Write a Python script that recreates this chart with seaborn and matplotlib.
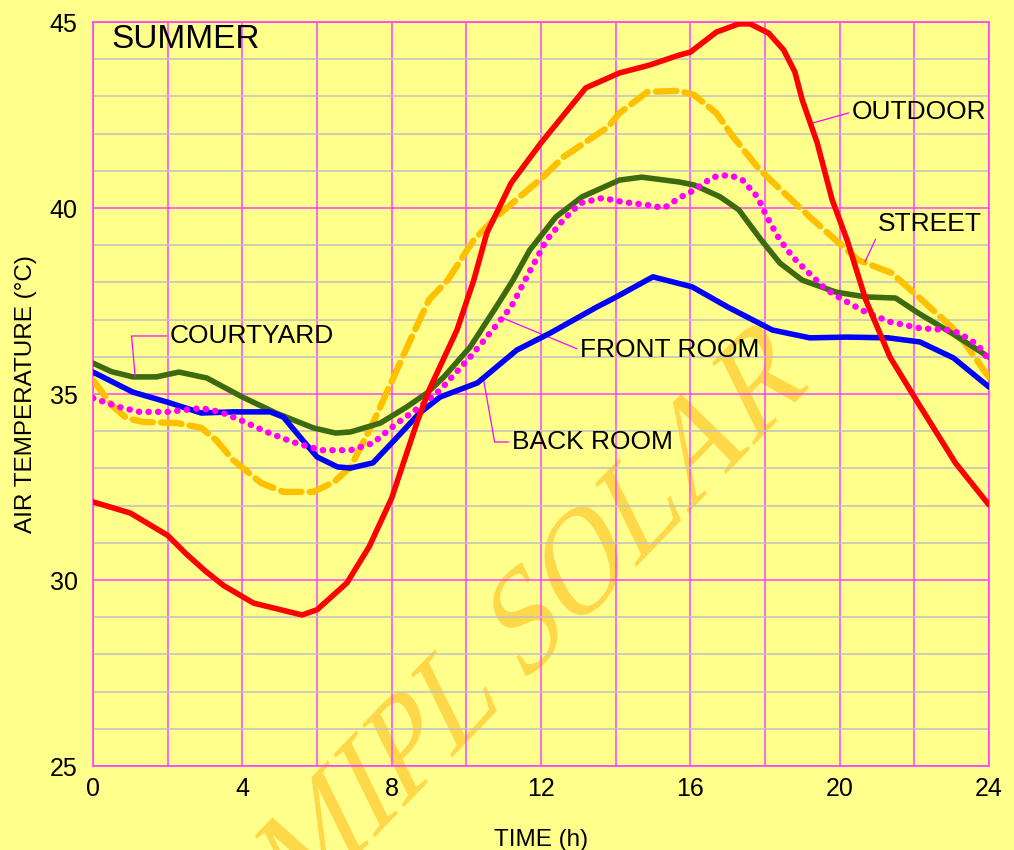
import matplotlib
matplotlib.use("Agg")
import matplotlib.pyplot as plt
from matplotlib.ticker import MultipleLocator
from matplotlib.textpath import TextPath
from matplotlib.patches import PathPatch
from matplotlib.font_manager import FontProperties
from matplotlib.transforms import Affine2D
import seaborn as sns

# Hourly air temperatures
outdoor_h = [0, 1, 2, 2.5, 3, 3.5, 4.3, 5.6, 6, 6.8, 7.4, 8, 8.7, 9, 9.75, 10.2, 10.55, 11.2, 12,
             13.2, 14.1, 14.9, 15.7, 16.0, 16.7, 17.3, 17.6, 18.1, 18.5, 18.8, 19.0, 19.4, 19.8,
             20.2, 20.7, 21.35, 22.1, 23.1, 24]
outdoor_t = [32.1, 31.8, 31.2, 30.7, 30.25, 29.85, 29.38, 29.06, 29.2, 29.92, 30.9, 32.2, 34.3,
             35.1, 36.72, 38.06, 39.33, 40.67, 41.75, 43.23, 43.63, 43.84, 44.11, 44.19, 44.73,
             44.95, 44.95, 44.7, 44.25, 43.66, 42.9, 41.75, 40.22, 39.14, 37.53, 35.99, 34.76,
             33.15, 32.02]

street_h = [0, 0.5, 0.9, 1.35, 2.25, 2.9, 3.3, 3.75, 4.5, 5.1, 5.9, 6.45, 6.9, 7.5, 7.9, 8.5, 9.0,
            9.5, 10.2, 10.8, 12.05, 12.6, 13.8, 14.1, 14.85, 15.7, 16.1, 16.7, 17.15, 17.8, 18.15,
            19.2, 20.5, 21.4, 22.2, 23.0, 23.4, 24]
street_t = [35.38, 34.7, 34.35, 34.25, 34.22, 34.09, 33.76, 33.23, 32.61, 32.37, 32.37, 32.63,
            33.04, 34.22, 35.11, 36.45, 37.53, 38.06, 39.14, 39.76, 40.83, 41.37, 42.18, 42.55,
            43.12, 43.15, 43.04, 42.55, 41.91, 41.1, 40.75, 39.76, 38.6, 38.25, 37.53, 36.8,
            36.3, 35.45]

courtyard_h = [0, 0.5, 1.07, 1.7, 2.3, 3.05, 4.0, 4.9, 5.9, 6.5, 6.9, 7.7, 8.4, 8.95, 9.4, 10.1,
               10.8, 11.25, 11.7, 12.4, 13.1, 14.1, 14.7, 15.7, 16.1, 16.8, 17.3, 17.9, 18.4,
               19.0, 19.9, 20.7, 21.5, 22.1, 23.0, 24]
courtyard_t = [35.83, 35.6, 35.46, 35.46, 35.59, 35.43, 34.92, 34.49, 34.09, 33.95, 33.98, 34.22,
               34.65, 35.03, 35.46, 36.26, 37.34, 38.06, 38.87, 39.76, 40.3, 40.75, 40.83, 40.7,
               40.62, 40.3, 39.95, 39.14, 38.52, 38.06, 37.74, 37.61, 37.58, 37.18, 36.64, 35.99]

front_h = [0, 0.7, 1.25, 2.0, 2.9, 3.4, 3.95, 4.65, 5.35, 6.1, 6.9, 7.5, 8.15, 8.75, 9.3, 10.1,
           10.7, 11.2, 11.7, 12.15, 12.6, 13.05, 13.65, 14.2, 14.85, 15.3, 15.7, 16.1, 16.6,
           17.05, 17.4, 17.8, 18.05, 18.4, 18.75, 19.1, 19.65, 20.1, 20.7, 21.35, 22.15, 22.9,
           23.2, 23.7, 24]
front_t = [34.89, 34.65, 34.52, 34.52, 34.62, 34.52, 34.3, 33.98, 33.71, 33.49, 33.49, 33.68,
           34.22, 34.65, 35.11, 35.99, 36.72, 37.34, 38.3, 39.14, 39.68, 40.13, 40.27, 40.16,
           40.08, 40.0, 40.27, 40.48, 40.83, 40.89, 40.75, 40.3, 39.76, 39.14, 38.68, 38.33,
           37.8, 37.53, 37.2, 36.94, 36.77, 36.72, 36.64, 36.32, 35.91]

back_h = [0, 1.07, 2.0, 2.9, 3.75, 4.75, 5.1, 5.55, 6.0, 6.55, 6.9, 7.5, 8.15, 8.75, 9.3, 10.3,
          11.35, 12.25, 13.5, 14.0, 15.0, 16.05, 17.0, 18.2, 19.2, 20.2, 21.3, 22.15, 23.05, 24]
back_t = [35.59, 35.05, 34.78, 34.49, 34.52, 34.52, 34.38, 33.84, 33.31, 33.04, 33.01, 33.15,
          33.84, 34.49, 34.92, 35.3, 36.18, 36.64, 37.34, 37.6, 38.15, 37.88, 37.34, 36.72,
          36.51, 36.53, 36.51, 36.4, 35.97, 35.19]

x_ticks = [0, 2, 4, 6, 8, 10, 12, 14, 16, 18, 20, 22, 24]
x_ticklabels = ["0", "", "4", "", "8", "", "12", "", "16", "", "20", "", "24"]
y_ticks = [25, 30, 35, 40, 45]

bg = "#FFFF8C"
grid_pink = "#FF40FF"

sns.set_theme(style="white")
plt.rcParams["font.family"] = ["Liberation Sans", "DejaVu Sans"]
plt.rcParams["text.color"] = "black"
plt.rcParams["axes.labelcolor"] = "black"

fig = plt.figure(figsize=(10.14, 8.5), dpi=100, facecolor=bg)
ax = fig.add_axes([0.0917, 0.0988, 0.8836, 0.8753])
ax.set_facecolor(bg)
ax.set_axisbelow(True)

# series
sns.lineplot(x=street_h, y=street_t, ax=ax, color="#FFC000", lw=4.6,
             linestyle=(0, (3.2, 1.3)), dash_capstyle="round", sort=False, zorder=3)
sns.lineplot(x=courtyard_h, y=courtyard_t, ax=ax, color="#3C6A10", lw=4.0, sort=False, zorder=3)
sns.lineplot(x=back_h, y=back_t, ax=ax, color="#0000FF", lw=4.0, sort=False, zorder=4)
sns.lineplot(x=front_h, y=front_t, ax=ax, color="#FF00FF", lw=4.6,
             linestyle=(0, (0.05, 1.45)), dash_capstyle="round", sort=False, zorder=4)
sns.lineplot(x=outdoor_h, y=outdoor_t, ax=ax, color="#FF0000", lw=4.0, sort=False, zorder=5)

ax.set_xlim(0, 24)
ax.set_ylim(25, 45)
ax.set_xticks(x_ticks)
ax.set_xticklabels(x_ticklabels)
ax.set_yticks(y_ticks)
ax.yaxis.set_minor_locator(MultipleLocator(1))
ax.grid(True, which="major", color=grid_pink, lw=1.1)
ax.grid(True, which="minor", axis="y", color="#C0C0C0", lw=1.1)
ax.tick_params(axis="both", which="both", length=0, labelsize=18, colors="black")
ax.tick_params(axis="x", pad=8)
ax.tick_params(axis="y", pad=11)
for s in ax.spines.values():
    s.set_color(grid_pink)
    s.set_linewidth(1.2)

ax.set_xlabel("TIME (h)", fontsize=17.5, labelpad=20)
ax.set_ylabel("AIR TEMPERATURE (°C)", fontsize=17.5, labelpad=9)

# watermark: rotated, then stretched vertically like the original image
wm = TextPath((0, 0), "MIPL SOLAR", size=100, prop=FontProperties(family="Liberation Serif"))
ext = wm.get_extents()
f = 630 / ext.width
wm_tr = (Affine2D().translate(-(ext.x0 + ext.x1) / 2, -(ext.y0 + ext.y1) / 2)
         .scale(f).rotate_deg(35.5).scale(1, 1.45).translate(532, 238))
wm_patch = PathPatch(wm, transform=wm_tr, facecolor="#FFD84A", edgecolor="none", zorder=0.3)
wm_patch.set_clip_on(False)
ax.add_artist(wm_patch)

ax.text(0.5, 44.52, "SUMMER", fontsize=24, va="center", ha="left")

lead = dict(arrowstyle="-", color="#FF00FF", lw=0.9, shrinkA=0, shrinkB=0, relpos=(0, 0.5))
fs = 19
ax.annotate("OUTDOOR", xy=(19.26, 42.28), xytext=(20.33, 42.58), fontsize=fs,
            va="center", ha="left", arrowprops=lead)
ax.annotate("STREET", xy=(20.68, 38.55), xytext=(21.03, 39.57), fontsize=fs,
            va="center", ha="left", arrowprops=dict(lead, relpos=(0, 0.1)))
ax.annotate("COURTYARD", xy=(1.13, 35.46), xytext=(2.06, 36.56), fontsize=fs,
            va="center", ha="left",
            arrowprops=dict(lead, connectionstyle="angle,angleA=180,angleB=95,rad=0"))
ax.annotate("FRONT ROOM", xy=(10.98, 37.04), xytext=(13.05, 36.18), fontsize=fs,
            va="center", ha="left", arrowprops=lead)
ax.annotate("BACK ROOM", xy=(10.45, 35.46), xytext=(11.22, 33.71), fontsize=fs,
            va="center", ha="left",
            arrowprops=dict(lead, connectionstyle="angle,angleA=180,angleB=100,rad=0"))

fig.savefig("out.png", dpi=100, facecolor=bg)
